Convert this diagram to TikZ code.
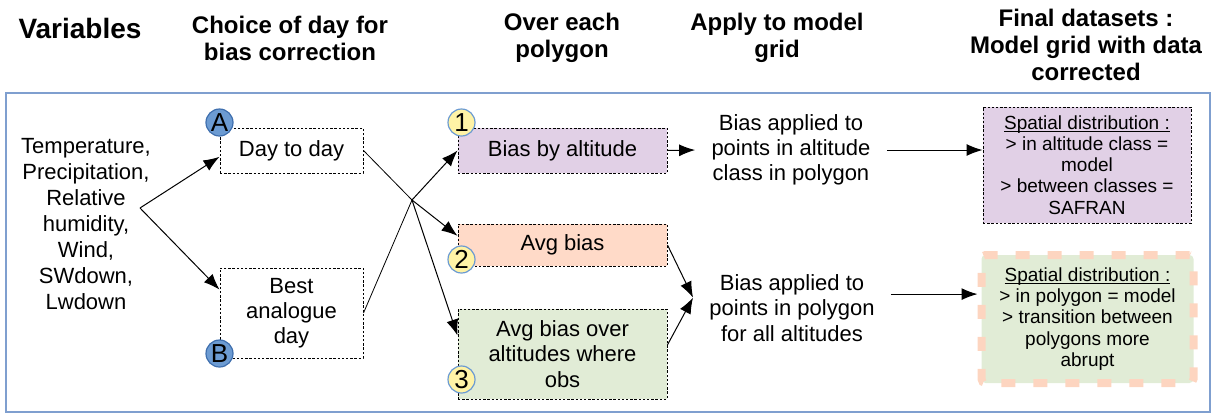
\documentclass[tikz,border=0pt]{standalone}
\usepackage{fontspec}
\setmainfont{Liberation Sans}
\usepackage{xcolor}
\usetikzlibrary{arrows.meta, positioning}

\definecolor{framecol}{HTML}{7F9FCF}
\definecolor{lavender}{HTML}{E1D0E6}
\definecolor{peach}{HTML}{FFDAC8}
\definecolor{peachline}{HTML}{FDD5C0}
\definecolor{palegreen}{HTML}{E1ECD6}
\definecolor{dotblue}{HTML}{6C9BD2}
\definecolor{dotblueline}{HTML}{3F6FAE}
\definecolor{dotyellow}{HTML}{FFF3A6}

% underline close to the baseline
\newcommand{\underbase}[1]{\setbox0\hbox{#1}\rlap{\rule[-1.3pt]{\wd0}{0.45pt}}\box0}

\begin{document}
\begin{tikzpicture}[
    x=0.5pt, y=-0.5pt,
    font=\fontsize{11}{12.6}\selectfont,
    head/.style={font=\fontsize{12}{13.5}\selectfont\bfseries, align=center},
    daybox/.style={draw, dash pattern=on 1.2pt off 0.9pt, line width=0.5pt, align=center, minimum width=71.5pt, inner sep=1pt},
    polybox/.style={daybox, minimum width=104.5pt},
    finalbox/.style={align=center, font=\fontsize{9.5}{10.6}\selectfont, inner sep=1pt},
    applytext/.style={align=center, inner sep=8pt},
    letterdot/.style={circle, draw=dotblueline, fill=dotblue, line width=0.6pt, minimum size=13.5pt, inner sep=0pt, font=\fontsize{13}{13}\selectfont},
    numberdot/.style={letterdot, draw=dotblue, fill=dotyellow},
    arr/.style={-{Latex[length=8pt, width=6pt]}, line width=0.5pt},
]
\useasboundingbox (0,0) rectangle (1217,414);

% Column headers
\node[head, font=\fontsize{14}{15}\selectfont\bfseries] (hvar) at (80,28) {Variables};
\node[head] (hday) at (290,38) {Choice of day for\\bias correction};
\node[head] (hpoly) at (562,38) {Over each\\polygon};
\node[head] (hgrid) at (777,38) {Apply to model\\grid};
\node[head] (hfinal) at (1086,45) {Final datasets :\\Model grid with data\\corrected};

% Frame
\draw[framecol, line width=0.8pt] (6,93) rectangle (1210,412);

% Variables
\node[align=center, font=\fontsize{11}{13}\selectfont] (vars) at (86,224) {Temperature,\\Precipitation,\\Relative\\humidity,\\Wind,\\SWdown,\\Lwdown};
\coordinate (vj) at (140,208);

% Choice of day
\node[daybox, minimum height=22.5pt] (day) at (291.5,150.5) {Day to day};
\node[daybox, minimum height=45pt, below=47pt of day] (best) {Best\\analogue\\day};
\node[letterdot, yshift=2.5pt] (dA) at (day.north west) {A};
\node[letterdot, yshift=2.5pt] (dB) at (best.south west) {B};

% Over each polygon
\node[polybox, fill=lavender, minimum height=22.5pt] (b1) at (562.5,150.5) {Bias by altitude};
\node[polybox, fill=peach, minimum height=21pt, below=25pt of b1] (b2) {Avg bias};
\node[polybox, fill=palegreen, minimum height=45pt, below=21pt of b2] (b3) {Avg bias over\\altitudes where\\obs};
\node[numberdot, xshift=2pt, yshift=2.5pt] (n1) at (b1.north west) {1};
\node[numberdot, xshift=2pt, yshift=3.5pt] (n2) at (b2.south west) {2};
\node[numberdot, xshift=2pt, yshift=10pt] (n3) at (b3.south west) {3};
\coordinate (cj) at (412,200);

% Apply to model grid
\node[applytext] (t1) at (791,150) {Bias applied to\\points in altitude\\class in polygon};
\node[applytext] (t2) at (792,308) {Bias applied to\\points in polygon\\for all altitudes};

% Final datasets
\node[finalbox, draw, dash pattern=on 1.2pt off 0.9pt, line width=0.5pt, fill=lavender, minimum width=104pt, minimum height=58pt] (f1) at (1087,165) {\underbase{Spatial distribution :}\\> in altitude class =\\model\\> between classes =\\SAFRAN};
\node[finalbox, draw=peachline, line width=4pt, dash pattern=on 7pt off 9pt, rounded corners=2pt, fill=palegreen, minimum width=106pt, minimum height=64pt] (f2) at (1087.5,319) {\underbase{Spatial distribution :}\\> in polygon = model\\> transition between\\polygons more\\abrupt};

% Arrows
\draw[arr] (vj) -- (day.185);
\draw[arr] (vj) -- (best.162);
\draw (day.east) -- (cj);
\draw (best.east) -- (cj);
\draw[arr] (cj) -- (b1.west);
\draw[arr] (cj) -- (b2.175);
\draw[arr] (cj) -- (b3.170);
\draw[arr] (b1.east) -- (t1.west);
\draw[arr] (b2.east) -- (t2.174);
\draw[arr] (b3.5) -- (t2.174);
\draw[arr] (t1.east) -- (t1.east -| f1.west);
\draw[arr] (t2.8) -- (t2.8 -| f2.west);
\end{tikzpicture}
\end{document}
